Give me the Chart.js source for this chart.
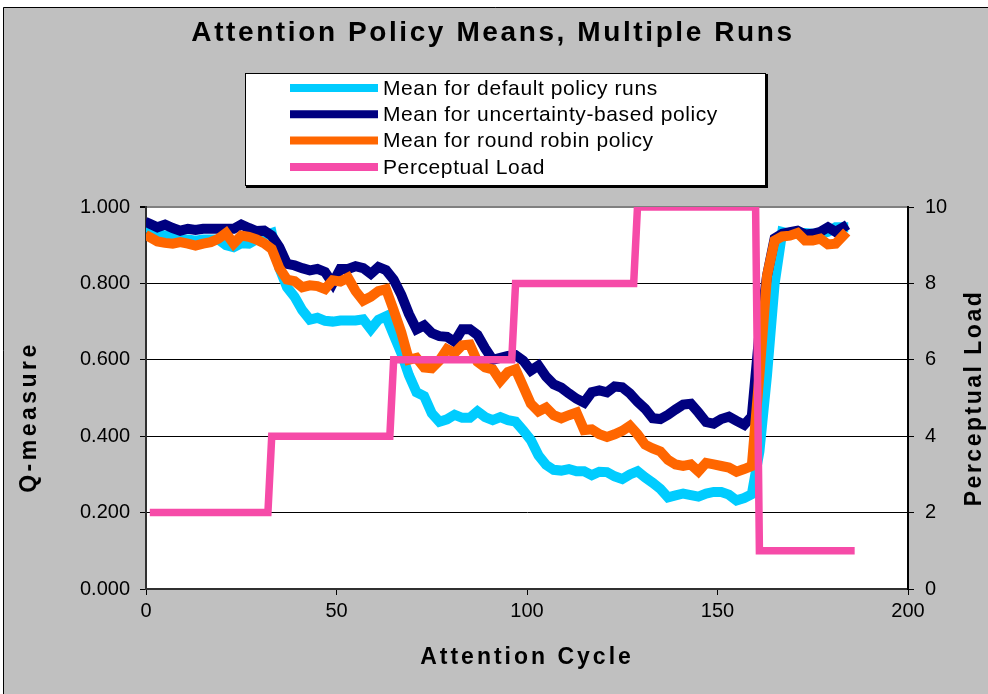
<!DOCTYPE html>
<html>
<head>
<meta charset="utf-8">
<title>Attention Policy Means, Multiple Runs</title>
<script src="https://cdn.jsdelivr.net/npm/chart.js@4.4.1/dist/chart.umd.min.js"></script>
<style>
  html, body { margin: 0; padding: 0; background: #fff; }
  canvas { display: block; }
</style>
</head>
<body>
<canvas id="attnChart" width="988" height="694"></canvas>
<script>
// attention cycles shared by the three mean series (every second cycle)
const cycles = [
  1, 3, 5, 7, 9, 11, 13, 15, 17, 19, 21, 23, 25, 27, 29, 31, 33, 35, 37, 39,
  41, 43, 45, 47, 49, 51, 53, 55, 57, 59, 61, 63, 65, 67, 69, 71, 73, 75, 77, 79,
  81, 83, 85, 87, 89, 91, 93, 95, 97, 99, 101, 103, 105, 107, 109, 111, 113, 115, 117, 119,
  121, 123, 125, 127, 129, 131, 133, 135, 137, 139, 141, 143, 145, 147, 149, 151, 153, 155, 157, 159,
  161, 163, 165, 167, 169, 171, 173, 175, 177, 179, 181, 183
];

const defaultMeans = [
  0.943, 0.930, 0.925, 0.925, 0.915, 0.915, 0.912, 0.915, 0.915, 0.915, 0.900, 0.895, 0.905, 0.904, 0.915, 0.925, 0.932, 0.840, 0.790, 0.765,
  0.730, 0.705, 0.710, 0.702, 0.700, 0.703, 0.703, 0.703, 0.706, 0.680, 0.705, 0.714, 0.665, 0.618, 0.560, 0.515, 0.505, 0.460, 0.438, 0.444,
  0.456, 0.448, 0.448, 0.465, 0.450, 0.442, 0.450, 0.442, 0.438, 0.415, 0.390, 0.350, 0.325, 0.312, 0.310, 0.314, 0.308, 0.308, 0.298, 0.307,
  0.306, 0.295, 0.288, 0.300, 0.308, 0.292, 0.278, 0.262, 0.240, 0.245, 0.250, 0.246, 0.242, 0.250, 0.254, 0.254, 0.247, 0.232, 0.238, 0.248,
  0.360, 0.560, 0.800, 0.935, 0.930, 0.930, 0.932, 0.930, 0.930, 0.935, 0.947, 0.947
];

const uncertaintyMeans = [
  0.956, 0.947, 0.954, 0.945, 0.938, 0.943, 0.940, 0.943, 0.943, 0.943, 0.943, 0.943, 0.954, 0.945, 0.937, 0.938, 0.925, 0.895, 0.851, 0.847,
  0.840, 0.834, 0.838, 0.830, 0.800, 0.838, 0.838, 0.845, 0.840, 0.825, 0.843, 0.835, 0.810, 0.770, 0.720, 0.680, 0.690, 0.670, 0.662, 0.660,
  0.647, 0.680, 0.680, 0.665, 0.630, 0.600, 0.605, 0.610, 0.612, 0.598, 0.572, 0.585, 0.556, 0.536, 0.527, 0.512, 0.498, 0.488, 0.515, 0.520,
  0.515, 0.530, 0.528, 0.512, 0.490, 0.472, 0.447, 0.445, 0.456, 0.470, 0.483, 0.485, 0.462, 0.437, 0.433, 0.445, 0.451, 0.440, 0.430, 0.452,
  0.670, 0.820, 0.918, 0.930, 0.934, 0.938, 0.928, 0.930, 0.935, 0.947, 0.935, 0.947
];

const roundRobinMeans = [
  0.921, 0.910, 0.906, 0.904, 0.908, 0.904, 0.899, 0.904, 0.908, 0.917, 0.932, 0.904, 0.925, 0.922, 0.915, 0.905, 0.890, 0.840, 0.810, 0.806,
  0.790, 0.795, 0.793, 0.785, 0.808, 0.805, 0.815, 0.780, 0.755, 0.765, 0.780, 0.785, 0.730, 0.672, 0.600, 0.605, 0.580, 0.578, 0.598, 0.628,
  0.618, 0.638, 0.640, 0.595, 0.580, 0.575, 0.545, 0.568, 0.575, 0.530, 0.485, 0.465, 0.475, 0.455, 0.447, 0.455, 0.462, 0.416, 0.418, 0.405,
  0.398, 0.405, 0.414, 0.427, 0.405, 0.378, 0.368, 0.360, 0.338, 0.326, 0.322, 0.326, 0.308, 0.330, 0.326, 0.322, 0.318, 0.307, 0.314, 0.322,
  0.560, 0.820, 0.912, 0.923, 0.925, 0.932, 0.912, 0.912, 0.917, 0.902, 0.904, 0.925
];

// perceptual load steps (right axis)
const loadCycles = [1, 32, 33, 64, 65, 96, 97, 128, 129, 160, 161, 186];
const loadLevels = [2, 2, 4, 4, 6, 6, 8, 8, 10, 10, 1, 1];

const seriesLabels = [
  "Mean for default policy runs",
  "Mean for uncertainty-based policy",
  "Mean for round robin policy",
  "Perceptual Load"
];
const seriesColors = ["#00ccff", "#000080", "#ff6600", "#f64ba8"];

const FONT = "'Liberation Sans', Arial, Helvetica, sans-serif";

function points(xs, ys) {
  return xs.map((x, i) => ({ x: x, y: ys[i] }));
}

// draw text with optional letter spacing and rotation
function drawText(ctx, text, x, y, font, spacing, rotate) {
  ctx.save();
  ctx.translate(x, y);
  if (rotate) ctx.rotate(rotate);
  ctx.font = font;
  ctx.fillStyle = "#000";
  ctx.textAlign = "center";
  ctx.textBaseline = "middle";
  if ("letterSpacing" in ctx) ctx.letterSpacing = spacing + "px";
  ctx.fillText(text, 0, 0);
  ctx.restore();
}

const excelFrame = {
  id: "excelFrame",
  beforeDraw(chart) {
    const { ctx, width, height, chartArea: a } = chart;
    ctx.save();
    ctx.fillStyle = "#ffffff";
    ctx.fillRect(0, 0, width, height);
    ctx.fillStyle = "#c0c0c0";
    ctx.fillRect(3, 7, width - 3, height - 7);
    ctx.strokeStyle = "#000";
    ctx.lineWidth = 1;
    ctx.beginPath();
    ctx.moveTo(3.5, height);
    ctx.lineTo(3.5, 7.5);
    ctx.lineTo(width, 7.5);
    ctx.stroke();
    // plot area
    ctx.fillStyle = "#ffffff";
    ctx.fillRect(a.left, a.top, a.right - a.left, a.bottom - a.top);
    ctx.restore();
  },
  afterDraw(chart) {
    const ctx = chart.ctx;
    const a = chart.chartArea;

    // main title
    drawText(ctx, "Attention Policy Means, Multiple Runs", 493, 33, "bold 28px " + FONT, 2.6, 0);

    // axis titles
    drawText(ctx, "Attention Cycle", (a.left + a.right) / 2, 658, "bold 23px " + FONT, 3, 0);
    drawText(ctx, "Q-measure", 30, 417, "bold 23px " + FONT, 3.5, -Math.PI / 2);
    drawText(ctx, "Perceptual Load", 975, 398, "bold 23px " + FONT, 2.5, -Math.PI / 2);

    // legend box
    const box = { x: 245, y: 73, w: 521, h: 113 };
    ctx.save();
    ctx.fillStyle = "#000";
    ctx.fillRect(box.x + 1, box.y + 1, box.w + 1, box.h + 1);
    ctx.fillStyle = "#fff";
    ctx.fillRect(box.x, box.y, box.w, box.h);
    ctx.strokeStyle = "#000";
    ctx.lineWidth = 1;
    ctx.strokeRect(box.x + 0.5, box.y + 0.5, box.w - 1, box.h - 1);

    chart.data.datasets.forEach((ds, i) => {
      const rowY = 88 + i * 26.3;
      ctx.strokeStyle = ds.borderColor;
      ctx.lineWidth = 8;
      ctx.lineCap = "butt";
      ctx.beginPath();
      ctx.moveTo(290, rowY);
      ctx.lineTo(378, rowY);
      ctx.stroke();
      ctx.fillStyle = "#000";
      ctx.font = "21px " + FONT;
      ctx.textAlign = "left";
      ctx.textBaseline = "middle";
      if ("letterSpacing" in ctx) ctx.letterSpacing = "0.6px";
      ctx.fillText(ds.label, 383, rowY + 1);
      if ("letterSpacing" in ctx) ctx.letterSpacing = "0px";
    });
    ctx.restore();
  }
};

const tickFont = { family: FONT, size: 20 };

new Chart(document.getElementById("attnChart"), {
  type: "line",
  data: {
    datasets: [
      { label: seriesLabels[0], data: points(cycles, defaultMeans), borderColor: seriesColors[0], yAxisID: "y", order: 4, borderCapStyle: "square" },
      { label: seriesLabels[1], data: points(cycles, uncertaintyMeans), borderColor: seriesColors[1], yAxisID: "y", order: 3, borderCapStyle: "square" },
      { label: seriesLabels[2], data: points(cycles, roundRobinMeans), borderColor: seriesColors[2], yAxisID: "y", order: 2, borderCapStyle: "square" },
      { label: seriesLabels[3], data: points(loadCycles, loadLevels), borderColor: seriesColors[3], yAxisID: "y2", order: 1, borderWidth: 7.5 }
    ]
  },
  options: {
    responsive: false,
    animation: false,
    layout: { padding: { top: 207, left: 0, right: 0, bottom: 0 } },
    elements: {
      point: { radius: 0 },
      line: { borderWidth: 10, tension: 0, fill: false }
    },
    plugins: {
      legend: { display: false },
      title: { display: false },
      tooltip: { enabled: false }
    },
    scales: {
      x: {
        type: "linear",
        min: 0,
        max: 200,
        ticks: { stepSize: 50, color: "#000", font: tickFont, padding: 4, maxRotation: 0 },
        grid: { drawOnChartArea: false, tickLength: 6, tickColor: "#000" },
        border: { color: "#303030", width: 2 },
        afterFit: (s) => { s.height = 105; }
      },
      y: {
        position: "left",
        min: 0,
        max: 1,
        ticks: { stepSize: 0.2, color: "#000", font: tickFont, padding: 10, callback: (v) => v.toFixed(3) },
        grid: {
          color: (c) => (c.tick && c.tick.value === 1 ? "#808080" : "#000"),
          lineWidth: (c) => (c.tick && c.tick.value === 1 ? 2 : 1),
          tickLength: 6,
          tickColor: "#000"
        },
        border: { color: "#303030", width: 2 },
        afterFit: (s) => { s.width = 146; }
      },
      y2: {
        position: "right",
        min: 0,
        max: 10,
        ticks: { stepSize: 2, color: "#000", font: tickFont, padding: 11 },
        grid: { drawOnChartArea: false, tickLength: 6, tickColor: "#000" },
        border: { color: "#000", width: 2 },
        afterFit: (s) => { s.width = 80; }
      }
    }
  },
  plugins: [excelFrame]
});
</script>
</body>
</html>
